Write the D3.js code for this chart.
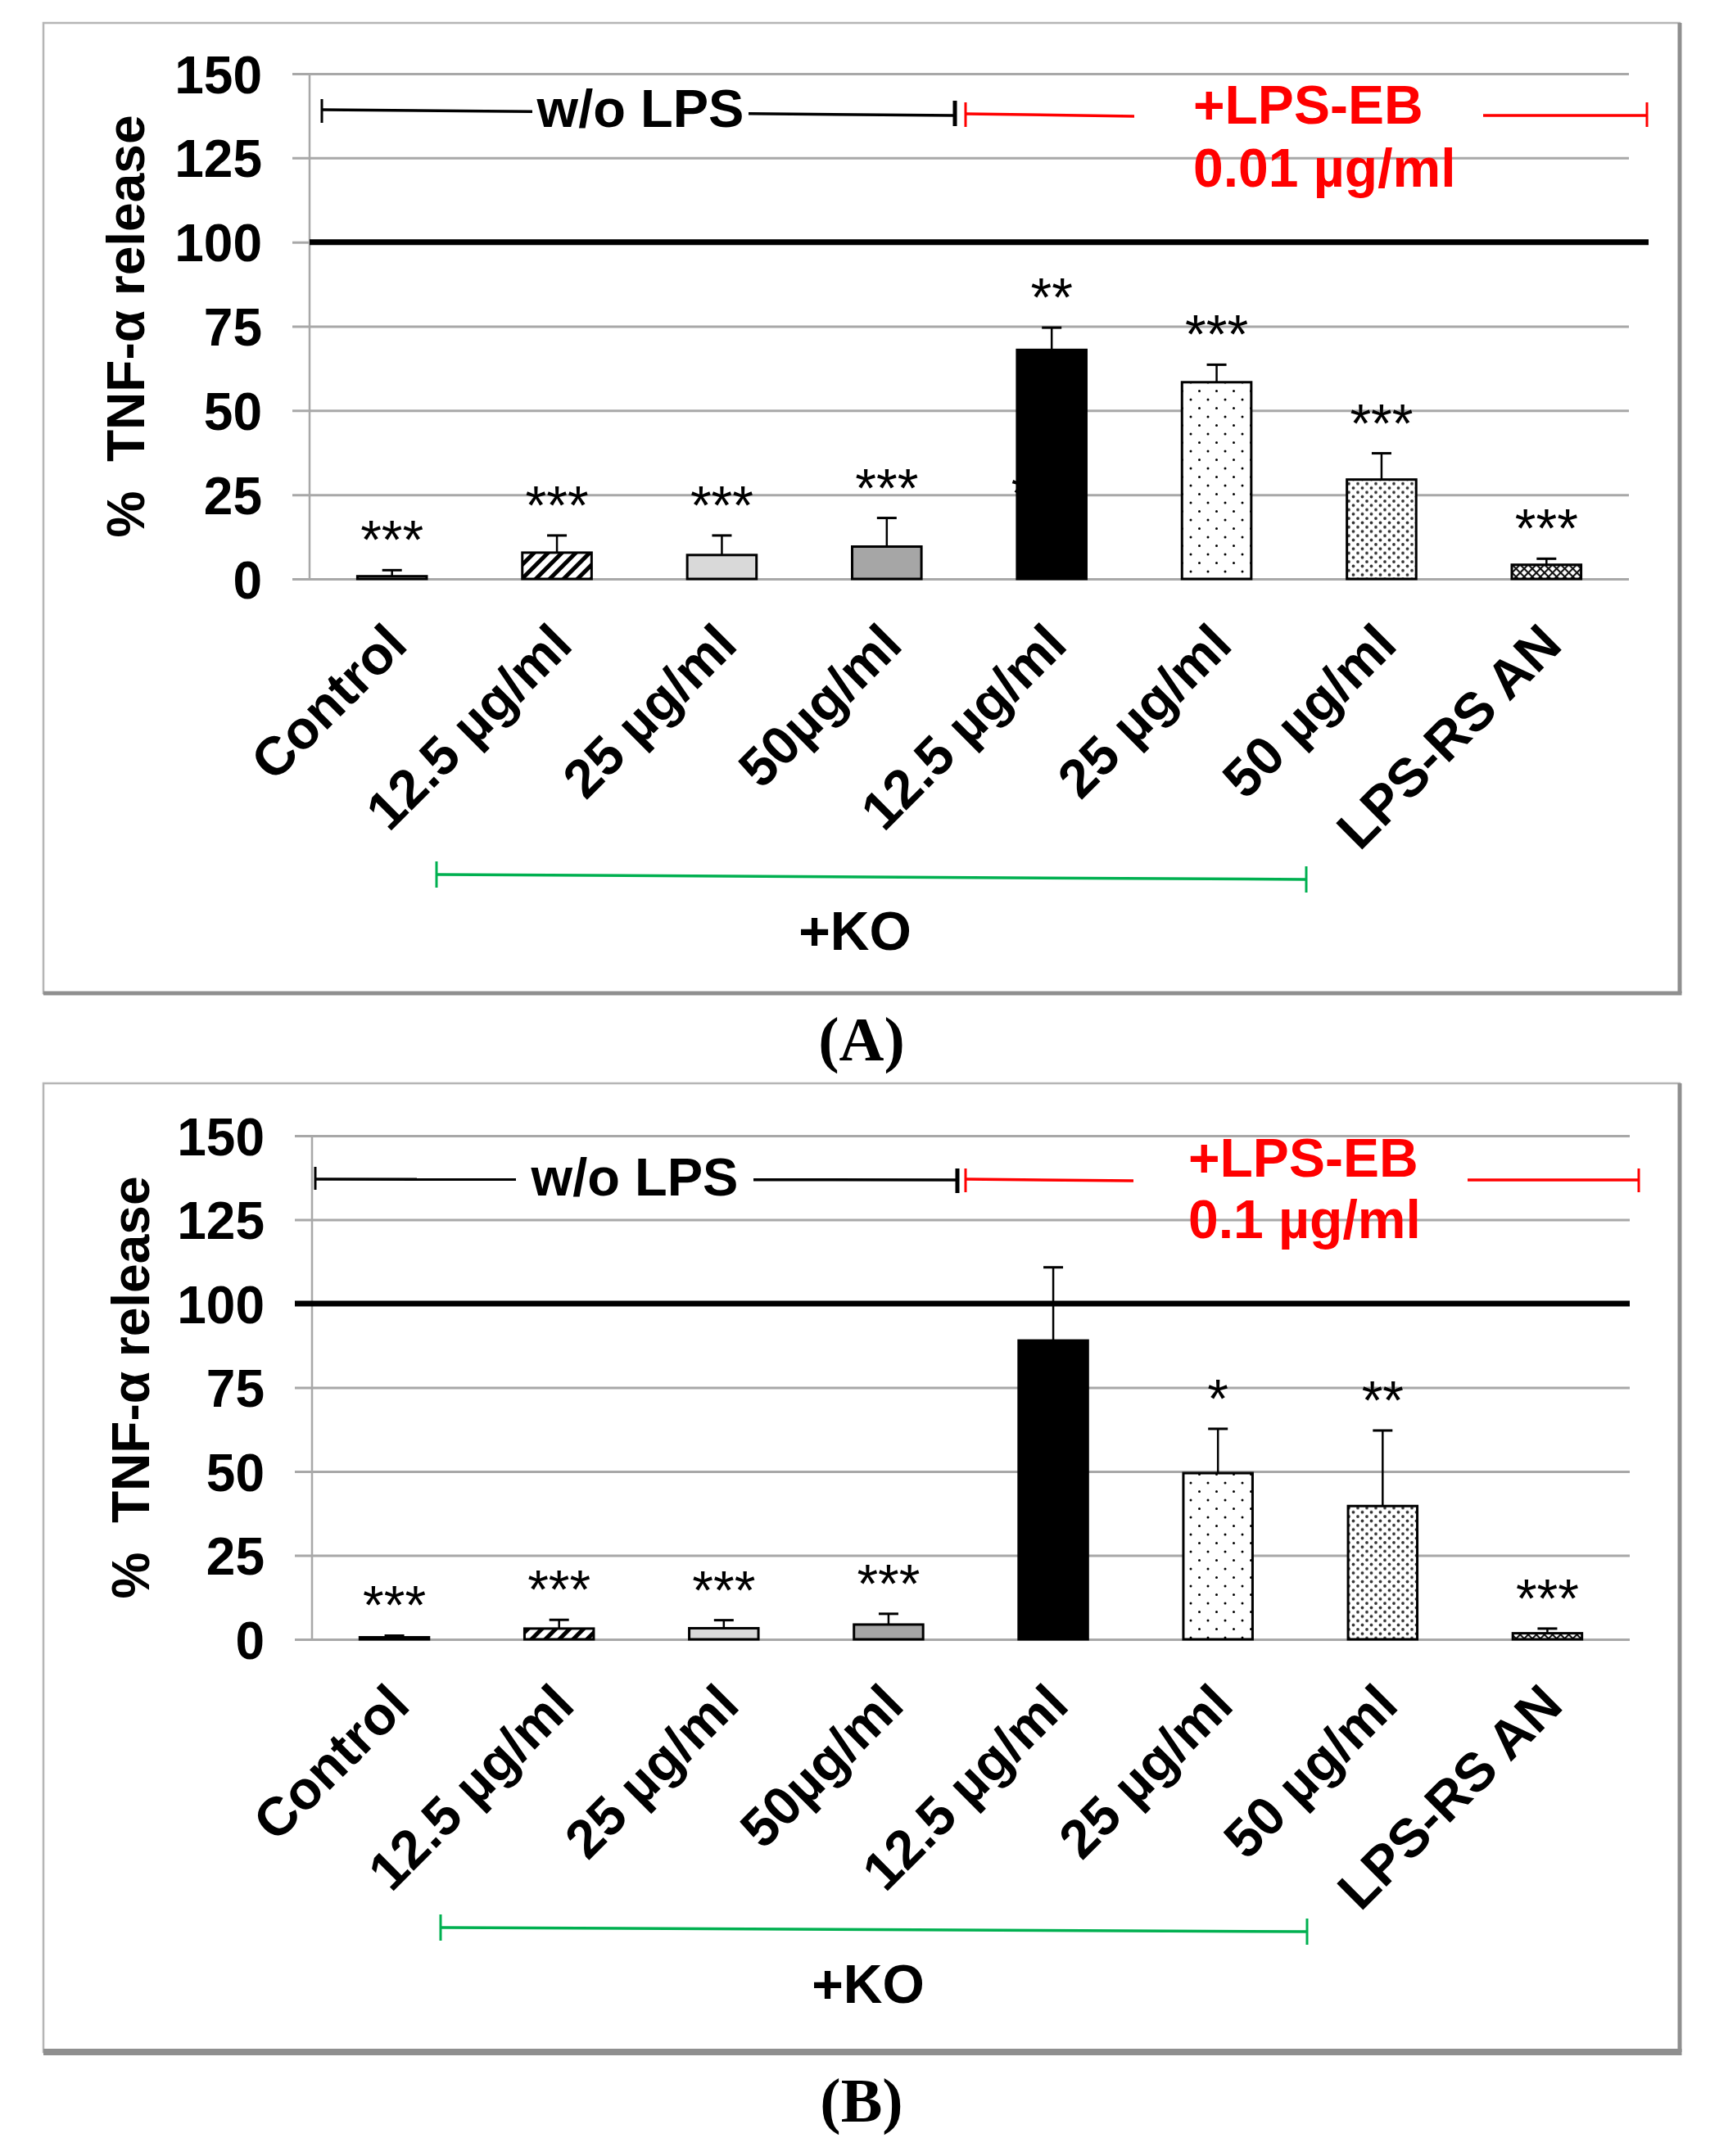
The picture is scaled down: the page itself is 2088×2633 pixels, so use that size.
<!DOCTYPE html>
<html>
<head>
<meta charset="utf-8">
<script src="https://cdn.jsdelivr.net/npm/d3@7"></script>
<style>
  body { margin: 0; background: #fff; }
  text { font-family: "Liberation Sans", Arial, sans-serif; }
</style>
</head>
<body>
<div id="chart"></div>
<script>
// categories along the x axis (first four: w/o LPS, last four: +LPS-EB)
const categories = ["Control", "12.5 µg/ml", "25 µg/ml", "50µg/ml",
  "12.5 µg/ml", "25 µg/ml", "50 µg/ml", "LPS-RS AN"];
const yTicks = [0, 25, 50, 75, 100, 125, 150];

// panel A : +LPS-EB 0.01 µg/ml
const valuesA = [0.8, 7.8, 7.1, 9.6, 68.0, 58.4, 29.5, 4.2];
const errorsA = [1.8, 5.1, 5.8, 8.5, 6.6, 5.2, 7.8, 1.8];
const starsA = ["***", "***", "***", "***", "**", "***", "***", "***"];

// panel B : +LPS-EB 0.1 µg/ml
const valuesB = [0.6, 3.2, 3.3, 4.4, 89.0, 49.5, 39.7, 1.8];
const errorsB = [0.5, 2.6, 2.4, 3.2, 21.8, 13.2, 22.5, 1.4];
const starsB = ["***", "***", "***", "***", "", "*", "**", "***"];

// bar fills, in category order
const fills = ["#ffffff", "url(#hatch)", "#d9d9d9", "#a6a6a6",
  "#000000", "url(#dotsSparse)", "url(#dotsDense)", "url(#cross)"];

const width = 2088, height = 2633;
const svg = d3.select("#chart").append("svg")
  .attr("width", width)
  .attr("height", height);

svg.append("rect").attr("width", width).attr("height", height).attr("fill", "#fff");

// fill patterns
const defs = svg.append("defs");

const hatch = defs.append("pattern").attr("id", "hatch")
  .attr("patternUnits", "userSpaceOnUse")
  .attr("width", 12).attr("height", 12)
  .attr("patternTransform", "rotate(45)");
hatch.append("rect").attr("width", 12).attr("height", 12).attr("fill", "#fff");
hatch.append("line").attr("x1", 2.5).attr("x2", 2.5).attr("y1", 0).attr("y2", 12)
  .attr("stroke", "#000").attr("stroke-width", 5);

const sparse = defs.append("pattern").attr("id", "dotsSparse")
  .attr("patternUnits", "userSpaceOnUse")
  .attr("width", 21).attr("height", 21);
sparse.append("rect").attr("width", 21).attr("height", 21).attr("fill", "#fff");
[[5, 5], [15.5, 15.5]].forEach(c =>
  sparse.append("circle").attr("cx", c[0]).attr("cy", c[1]).attr("r", 1.5).attr("fill", "#000"));

const dense = defs.append("pattern").attr("id", "dotsDense")
  .attr("patternUnits", "userSpaceOnUse")
  .attr("width", 11).attr("height", 10.6);
dense.append("rect").attr("width", 11).attr("height", 10.6).attr("fill", "#fff");
[[2.5, 2.5], [8, 7.8]].forEach(c =>
  dense.append("circle").attr("cx", c[0]).attr("cy", c[1]).attr("r", 1.9).attr("fill", "#333"));

const cross = defs.append("pattern").attr("id", "cross")
  .attr("patternUnits", "userSpaceOnUse")
  .attr("width", 7).attr("height", 7)
  .attr("patternTransform", "rotate(45)");
cross.append("rect").attr("width", 7).attr("height", 7).attr("fill", "#fff");
cross.append("line").attr("x1", 0).attr("x2", 7).attr("y1", 1).attr("y2", 1)
  .attr("stroke", "#111").attr("stroke-width", 2.2);
cross.append("line").attr("x1", 1).attr("x2", 1).attr("y1", 0).attr("y2", 7)
  .attr("stroke", "#111").attr("stroke-width", 2.2);

// layout of each panel (pixels)
const panels = [
  {
    values: valuesA, errors: errorsA, stars: starsA,
    dose: "0.01 µg/ml", letter: "(A)",
    frame: { x0: 53, y0: 28, x1: 2051, y1: 1213, bottom: 5 },
    yTop: 90, yBottom: 707, axisX: 378, gridX0: 357, gridX1: 1989,
    refX0: 378, refX1: 2013,
    titleX: 176,
    black: { capL: 393, capR: 1166, y0: 134, y1: 141, gapL: 650, gapR: 914, textY: 155, cap: [121, 152] },
    red: { capL: 1179, capR: 2011, y0: 139, y1: 141, gapL: 1385, gapR: 1811, textX: 1457, textY1: 151, textY2: 228, cap: [125, 155] },
    ko: { x0: 533, x1: 1595, y0: 1068, y1: 1074, textX: 1044, textY: 1160 },
    letterY: 1295,
    hidden: { index: 4, value: 25.3, text: "***", dx: -12 }
  },
  {
    values: valuesB, errors: errorsB, stars: starsB,
    dose: "0.1 µg/ml", letter: "(B)",
    frame: { x0: 53, y0: 1323, x1: 2051, y1: 2506, bottom: 8 },
    yTop: 1387, yBottom: 2002, axisX: 381, gridX0: 360, gridX1: 1990,
    refX0: 360, refX1: 1990,
    titleX: 182,
    black: { capL: 385, capR: 1169, y0: 1440, y1: 1441, gapL: 630, gapR: 920, textY: 1460, cap: [1425, 1455] },
    red: { capL: 1179, capR: 2001, y0: 1440, y1: 1441, gapL: 1384, gapR: 1792, textX: 1451, textY1: 1437, textY2: 1512, cap: [1427, 1456] },
    ko: { x0: 538, x1: 1596, y0: 2354, y1: 2359, textX: 1060, textY: 2446 },
    letterY: 2591,
    hidden: null
  }
];

function drawPanel(p) {
  const g = svg.append("g");

  const x = d3.scaleBand()
    .domain(d3.range(categories.length))
    .range([p.axisX, p.gridX1])
    .paddingInner(0.58)
    .paddingOuter(0.29);
  const y = d3.scaleLinear().domain([0, 150]).range([p.yBottom, p.yTop]);
  const cx = i => x(i) + x.bandwidth() / 2;

  // frame with darker right / bottom edges
  const f = p.frame;
  g.append("rect")
    .attr("x", f.x0).attr("y", f.y0)
    .attr("width", f.x1 - f.x0).attr("height", f.y1 - f.y0)
    .attr("fill", "none").attr("stroke", "#b5b5b5").attr("stroke-width", 2.5);
  g.append("line").attr("x1", f.x1).attr("x2", f.x1).attr("y1", f.y0).attr("y2", f.y1)
    .attr("stroke", "#8f8f8f").attr("stroke-width", 5);
  g.append("line").attr("x1", f.x0).attr("x2", f.x1 + 2.5).attr("y1", f.y1).attr("y2", f.y1)
    .attr("stroke", "#8f8f8f").attr("stroke-width", f.bottom);

  // gridlines + tick labels
  const axis = g.append("g")
    .attr("transform", "translate(" + p.gridX0 + ",0)")
    .call(d3.axisLeft(y)
      .tickValues(yTicks)
      .tickSize(-(p.gridX1 - p.gridX0))
      .tickPadding(37));
  axis.select(".domain").remove();
  axis.selectAll(".tick line").attr("stroke", "#a8a8a8").attr("stroke-width", 3);
  axis.selectAll(".tick text")
    .attr("dy", "0.36em")
    .attr("fill", "#000")
    .style("font-family", "'Liberation Sans', Arial, sans-serif")
    .style("font-size", "64px")
    .style("font-weight", "bold");

  // y axis line
  g.append("line")
    .attr("x1", p.axisX).attr("x2", p.axisX)
    .attr("y1", y(150)).attr("y2", y(0))
    .attr("stroke", "#a8a8a8").attr("stroke-width", 2.5);

  // 100 % reference
  g.append("line")
    .attr("x1", p.refX0).attr("x2", p.refX1)
    .attr("y1", y(100)).attr("y2", y(100))
    .attr("stroke", "#000").attr("stroke-width", 7);

  // y title
  g.append("text")
    .attr("transform", "translate(" + p.titleX + "," + (p.yTop + p.yBottom) / 2 + ") rotate(-90)")
    .attr("text-anchor", "middle")
    .style("font-size", "64px")
    .style("font-weight", "bold")
    .text("%\u00a0 TNF-α release");

  // stray stars partly hidden behind a bar
  if (p.hidden) {
    g.append("text")
      .attr("x", cx(p.hidden.index) + p.hidden.dx)
      .attr("y", y(p.hidden.value) + 22)
      .attr("text-anchor", "middle")
      .style("font-size", "64px")
      .text(p.hidden.text);
  }

  // bars
  g.selectAll("rect.bar")
    .data(p.values)
    .enter()
    .append("rect")
    .attr("class", "bar")
    .attr("x", (d, i) => x(i))
    .attr("y", d => y(d))
    .attr("width", x.bandwidth())
    .attr("height", d => y(0) - y(d))
    .attr("fill", (d, i) => fills[i])
    .attr("stroke", "#000")
    .attr("stroke-width", 3);

  // error bars (upper half only)
  const err = g.selectAll("g.err")
    .data(p.values)
    .enter()
    .append("g")
    .attr("class", "err");
  err.append("line")
    .attr("x1", (d, i) => cx(i)).attr("x2", (d, i) => cx(i))
    .attr("y1", d => y(d)).attr("y2", (d, i) => y(d + p.errors[i]))
    .attr("stroke", "#000").attr("stroke-width", 2.5);
  err.append("line")
    .attr("x1", (d, i) => cx(i) - 12).attr("x2", (d, i) => cx(i) + 12)
    .attr("y1", (d, i) => y(d + p.errors[i])).attr("y2", (d, i) => y(d + p.errors[i]))
    .attr("stroke", "#000").attr("stroke-width", 3);

  // significance stars
  g.selectAll("text.star")
    .data(p.stars)
    .enter()
    .append("text")
    .attr("class", "star")
    .attr("x", (d, i) => cx(i))
    .attr("y", (d, i) => y(p.values[i] + p.errors[i]) - 14)
    .attr("text-anchor", "middle")
    .style("font-size", "66px")
    .text(d => d);

  // rotated category labels
  g.selectAll("text.cat")
    .data(categories)
    .enter()
    .append("text")
    .attr("class", "cat")
    .attr("transform", (d, i) => "translate(" + (cx(i) - 12) + "," + (y(0) + 50) + ") rotate(-45)")
    .attr("text-anchor", "end")
    .attr("dy", "0.72em")
    .style("font-size", "66px")
    .style("font-weight", "bold")
    .text(d => d);

  // "w/o LPS" bracket
  const b = p.black;
  const slope = (xx) => b.y0 + (b.y1 - b.y0) * (xx - b.capL) / (b.capR - b.capL);
  g.append("line").attr("x1", b.capL).attr("x2", b.gapL).attr("y1", slope(b.capL)).attr("y2", slope(b.gapL))
    .attr("stroke", "#000").attr("stroke-width", 3.5);
  g.append("line").attr("x1", b.gapR).attr("x2", b.capR).attr("y1", slope(b.gapR)).attr("y2", slope(b.capR))
    .attr("stroke", "#000").attr("stroke-width", 3.5);
  g.append("line").attr("x1", b.capL).attr("x2", b.capL).attr("y1", b.cap[0]).attr("y2", b.cap[1] - 2)
    .attr("stroke", "#000").attr("stroke-width", 3);
  g.append("line").attr("x1", b.capR).attr("x2", b.capR).attr("y1", b.cap[0] + 2).attr("y2", b.cap[1] + 2)
    .attr("stroke", "#000").attr("stroke-width", 5);
  g.append("text")
    .attr("x", (b.gapL + b.gapR) / 2)
    .attr("y", b.textY)
    .attr("text-anchor", "middle")
    .style("font-size", "65px")
    .style("font-weight", "bold")
    .text("w/o LPS");

  // "+LPS-EB" bracket
  const r = p.red;
  g.append("line").attr("x1", r.capL).attr("x2", r.gapL).attr("y1", r.y0).attr("y2", r.y1 + 1)
    .attr("stroke", "#ff0000").attr("stroke-width", 3.5);
  g.append("line").attr("x1", r.gapR).attr("x2", r.capR).attr("y1", r.y1).attr("y2", r.y1)
    .attr("stroke", "#ff0000").attr("stroke-width", 3.5);
  [r.capL, r.capR].forEach(xx =>
    g.append("line").attr("x1", xx).attr("x2", xx).attr("y1", r.cap[0]).attr("y2", r.cap[1])
      .attr("stroke", "#ff0000").attr("stroke-width", 3));
  g.append("text")
    .attr("x", r.textX).attr("y", r.textY1)
    .attr("fill", "#ff0000")
    .style("font-size", "66px")
    .style("font-weight", "bold")
    .text("+LPS-EB");
  g.append("text")
    .attr("x", r.textX).attr("y", r.textY2)
    .attr("fill", "#ff0000")
    .style("font-size", "66px")
    .style("font-weight", "bold")
    .text(p.dose);

  // "+KO" bracket
  const k = p.ko;
  g.append("line").attr("x1", k.x0).attr("x2", k.x1).attr("y1", k.y0).attr("y2", k.y1)
    .attr("stroke", "#00b050").attr("stroke-width", 3.5);
  [[k.x0, k.y0], [k.x1, k.y1]].forEach(c =>
    g.append("line").attr("x1", c[0]).attr("x2", c[0]).attr("y1", c[1] - 16).attr("y2", c[1] + 16)
      .attr("stroke", "#00b050").attr("stroke-width", 3));
  g.append("text")
    .attr("x", k.textX).attr("y", k.textY)
    .attr("text-anchor", "middle")
    .style("font-size", "66px")
    .style("font-weight", "bold")
    .text("+KO");

  // panel letter
  g.append("text")
    .attr("x", 1052).attr("y", p.letterY)
    .attr("text-anchor", "middle")
    .style("font-family", "'Liberation Serif', 'Times New Roman', serif")
    .style("font-size", "76px")
    .style("font-weight", "bold")
    .text(p.letter);
}

panels.forEach(drawPanel);
</script>
</body>
</html>
